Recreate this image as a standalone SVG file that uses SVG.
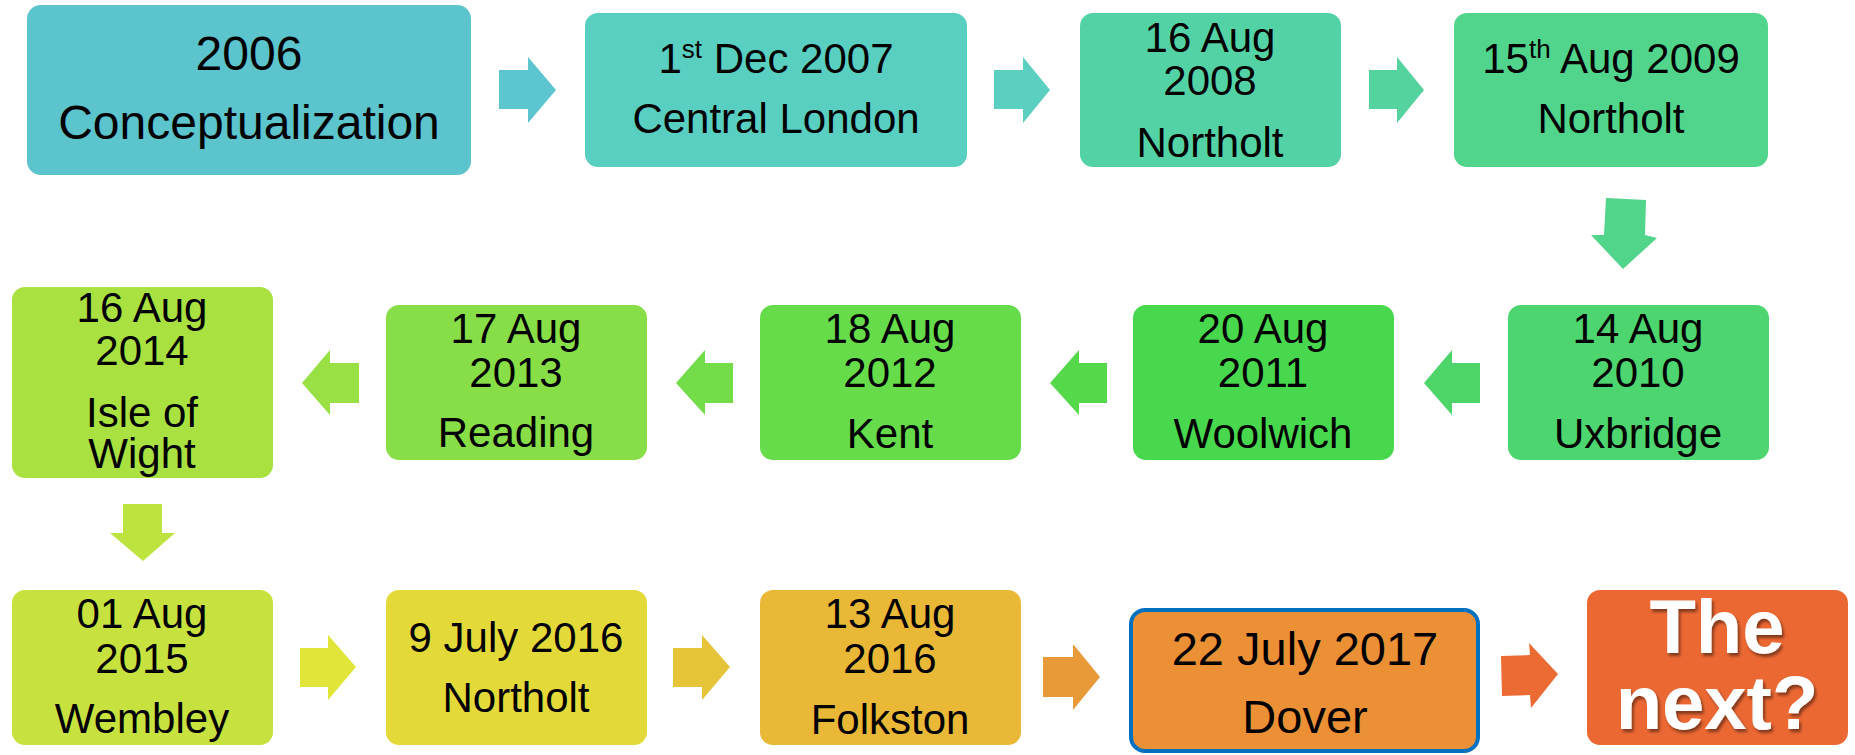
<svg xmlns="http://www.w3.org/2000/svg" width="1855" height="755" viewBox="0 0 1855 755">
<defs>
<style>
text{font-family:"Liberation Sans",Arial,sans-serif;fill:#000;text-anchor:middle;}
.t42{font-size:42px;}
.t48{font-size:48px;}
.t47{font-size:47px;}
.big{font-size:76px;font-weight:bold;fill:#fff;}
</style>
<filter id="sh" x="-10%" y="-10%" width="130%" height="130%">
<feDropShadow dx="2" dy="3" stdDeviation="1.5" flood-color="#000" flood-opacity="0.45"/>
</filter>
</defs>

<g id="connectors">
<polygon points="499,70 528,70 528,57 556,90 528,123 528,109 499,109" fill="#5CC5CF"/>
<polygon points="994,70 1023,70 1023,57 1050,90 1023,123 1023,109 994,109" fill="#5BD0C0"/>
<polygon points="1369,70 1397,70 1397,57 1424,90 1397,123 1397,109 1369,109" fill="#54D39F"/>
<polygon points="1606,198 1646,200 1645,235 1657,238 1623,269 1591,235 1604,235" fill="#51D58A"/>
<polygon points="1480,363 1452,363 1452,350 1424,383 1452,415 1452,403 1480,403" fill="#4DD56A"/>
<polygon points="1107,363 1079,363 1079,350 1050,383 1079,415 1079,403 1107,403" fill="#55D94A"/>
<polygon points="733,363 705,363 705,350 676,383 705,415 705,403 733,403" fill="#72DD48"/>
<polygon points="359,363 330,363 330,350 302,383 330,415 330,403 359,403" fill="#98E044"/>
<polygon points="123,504 162,504 162,533 175,533 143,561 110,533 123,533" fill="#BCE33E"/>
<polygon points="300,648 328,648 328,635 356,667 328,700 328,687 300,687" fill="#E1E53A"/>
<polygon points="673,648 702,648 702,635 730,667 702,700 702,687 673,687" fill="#E6C43A"/>
<polygon points="1043,657 1073,657 1073,644 1100,677 1073,710 1073,697 1043,697" fill="#E89A38"/>
<polygon points="1501,656 1530,655 1529,643 1558,674 1531,708 1530,695 1502,696" fill="#EB6B33"/>
</g>

<g id="n2006">
<rect x="27" y="5" width="444" height="170" rx="14" fill="#5BC4CD"/>
<text class="t48" x="249" y="70">2006</text>
<text class="t48" x="249" y="139">Conceptualization</text>
</g>
<g id="n2007">
<rect x="585" y="13" width="382" height="154" rx="13" fill="#58CFC0"/>
<text class="t42" x="776" y="73">1<tspan font-size="26" dy="-15">st</tspan><tspan dy="15"> Dec 2007</tspan></text>
<text class="t42" x="776" y="133">Central London</text>
</g>
<g id="n2008">
<rect x="1080" y="13" width="261" height="154" rx="13" fill="#53D3A5"/>
<text class="t42" x="1210" y="52">16 Aug</text>
<text class="t42" x="1210" y="95">2008</text>
<text class="t42" x="1210" y="157">Northolt</text>
</g>
<g id="n2009">
<rect x="1454" y="13" width="314" height="154" rx="13" fill="#51D58C"/>
<text class="t42" x="1611" y="73">15<tspan font-size="26" dy="-15">th</tspan><tspan dy="15"> Aug 2009</tspan></text>
<text class="t42" x="1611" y="133">Northolt</text>
</g>
<g id="n2010">
<rect x="1508" y="305" width="261" height="155" rx="13" fill="#4DD56F"/>
<text class="t42" x="1638" y="343">14 Aug</text>
<text class="t42" x="1638" y="387">2010</text>
<text class="t42" x="1638" y="448">Uxbridge</text>
</g>
<g id="n2011">
<rect x="1133" y="305" width="261" height="155" rx="13" fill="#48D84E"/>
<text class="t42" x="1263" y="343">20 Aug</text>
<text class="t42" x="1263" y="387">2011</text>
<text class="t42" x="1263" y="448">Woolwich</text>
</g>
<g id="n2012">
<rect x="760" y="305" width="261" height="155" rx="13" fill="#66DC4B"/>
<text class="t42" x="890" y="343">18 Aug</text>
<text class="t42" x="890" y="387">2012</text>
<text class="t42" x="890" y="448">Kent</text>
</g>
<g id="n2013">
<rect x="386" y="305" width="261" height="155" rx="13" fill="#88DE46"/>
<text class="t42" x="516" y="343">17 Aug</text>
<text class="t42" x="516" y="387">2013</text>
<text class="t42" x="516" y="447">Reading</text>
</g>
<g id="n2014">
<rect x="12" y="287" width="261" height="191" rx="13" fill="#A8E140"/>
<text class="t42" x="142" y="322">16 Aug</text>
<text class="t42" x="142" y="365">2014</text>
<text class="t42" x="142" y="427">Isle of</text>
<text class="t42" x="142" y="468">Wight</text>
</g>
<g id="n2015">
<rect x="12" y="590" width="261" height="155" rx="13" fill="#C7E23E"/>
<text class="t42" x="142" y="628">01 Aug</text>
<text class="t42" x="142" y="673">2015</text>
<text class="t42" x="142" y="733">Wembley</text>
</g>
<g id="n2016a">
<rect x="386" y="590" width="261" height="155" rx="13" fill="#E3DA3A"/>
<text class="t42" x="516" y="652">9 July 2016</text>
<text class="t42" x="516" y="712">Northolt</text>
</g>
<g id="n2016b">
<rect x="760" y="590" width="261" height="155" rx="13" fill="#E8B836"/>
<text class="t42" x="890" y="628">13 Aug</text>
<text class="t42" x="890" y="673">2016</text>
<text class="t42" x="890" y="734">Folkston</text>
</g>
<g id="n2017">
<rect x="1131" y="610" width="347" height="141" rx="14" fill="#EB9035" stroke="#0070C0" stroke-width="4"/>
<text class="t47" x="1305" y="665">22 July 2017</text>
<text class="t47" x="1305" y="733">Dover</text>
</g>
<g id="nnext">
<rect x="1587" y="590" width="261" height="155" rx="13" fill="#EC6833"/>
<text class="big" x="1717" y="653" filter="url(#sh)">The</text>
<text class="big" x="1717" y="729" filter="url(#sh)">next?</text>
</g>
</svg>
